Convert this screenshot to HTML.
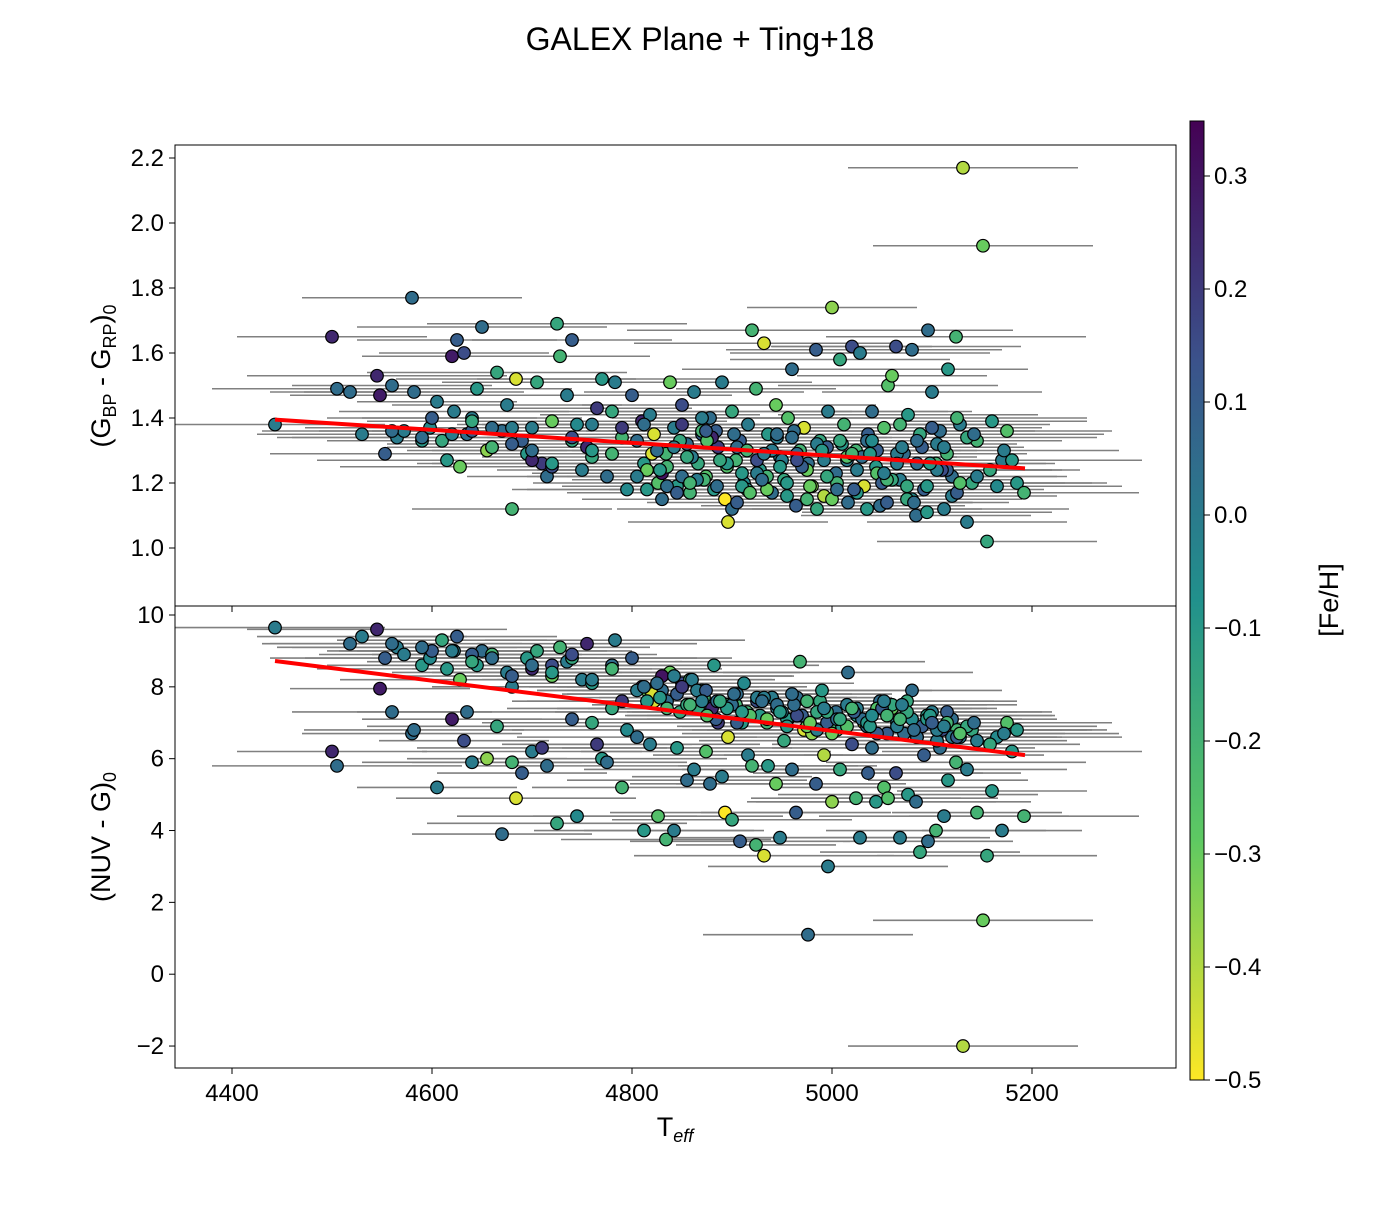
<!DOCTYPE html>
<html><head><meta charset="utf-8"><style>
body{margin:0;background:#fff;}
svg{font-family:"Liberation Sans","DejaVu Sans",sans-serif;}
</style></head><body>
<svg id="chart" width="1400" height="1200" viewBox="0 0 1400 1200">
<defs>
<clipPath id="clipTop"><rect x="175" y="145" width="1001" height="461"/></clipPath>
<clipPath id="clipBot"><rect x="175" y="606" width="1001" height="462"/></clipPath>
<linearGradient id="cbgrad" x1="0" y1="1" x2="0" y2="0">
<stop offset="0" stop-color="#fde725"/><stop offset="0.25" stop-color="#5ec962"/><stop offset="0.5" stop-color="#21918c"/><stop offset="0.75" stop-color="#3b528b"/><stop offset="1" stop-color="#440154"/>
</linearGradient>
</defs>
<text x="700" y="50" font-size="32" text-anchor="middle">GALEX Plane + Ting+18</text>
<g id="topMarks" clip-path="url(#clipTop)"></g>
<g id="botMarks" clip-path="url(#clipBot)"></g>
<rect x="175" y="145" width="1001" height="461" fill="none" stroke="#000" stroke-width="1"/>
<rect x="175" y="606" width="1001" height="462" fill="none" stroke="#000" stroke-width="1"/>
<g id="axes"></g>
<text transform="translate(110,376) rotate(-90)" font-size="27" text-anchor="middle">(G<tspan font-size="18" dy="6">BP</tspan><tspan dy="-6"> - G</tspan><tspan font-size="18" dy="6">RP</tspan><tspan dy="-6">)</tspan><tspan font-size="18" dy="6">0</tspan></text>
<text transform="translate(110,837) rotate(-90)" font-size="27" text-anchor="middle">(NUV - G)<tspan font-size="18" dy="6">0</tspan></text>
<text x="675" y="1136" font-size="27" text-anchor="middle">T<tspan font-size="18" dy="6" font-style="italic">eff</tspan></text>
<rect x="1190" y="121" width="14" height="959" fill="url(#cbgrad)" stroke="#000" stroke-width="1"/>
<text transform="translate(1338,600) rotate(-90)" font-size="27" text-anchor="middle">[Fe/H]</text>
</svg>
<script>
const teff=[4443,4500,4505,4518,4530,4545,4548,4553,4560,4565,
4572,4580,4582,4590,4598,4605,4610,4615,4620,4622,
4625,4628,4632,4635,4640,4645,4650,4655,4660,4665,
4670,4675,4680,4684,4690,4695,4700,4705,4710,4715,
4720,4725,4728,4735,4740,4745,4750,4755,4760,4765,
4770,4775,4780,4783,4790,4795,4800,4805,4810,4812,
4818,4822,4826,4830,4834,4838,4842,4845,4850,4855,
4858,4862,4866,4870,4874,4878,4882,4886,4890,4893,
4896,4900,4904,4908,4912,4916,4920,4924,4928,4932,
4936,4940,4944,4948,4952,4956,4960,4964,4968,4972,
4976,4980,4984,4988,4992,4996,5000,5004,5008,5012,
5016,5020,5024,5028,5032,5036,5040,5044,5048,5052,
5056,5060,5064,5068,5072,5076,5080,5084,5088,5092,
5096,5100,5104,5108,5112,5116,5120,5124,5128,5131,
5135,5140,5145,5151,5155,5160,5165,5170,5175,5180,
5185,5192,
4640,4700,4760,4790,4815,4835,4848,4860,4872,4884,
4895,4905,4915,4925,4935,4945,4955,4965,4975,4985,
4995,5005,5015,5025,5035,5045,5055,5065,5075,5085,
5095,5105,5115,5125,4820,4850,4880,4910,4940,4970,
5000,5030,5060,5090,5120,4830,4870,4900,4950,5010,
5050,5080,5110,4780,4740,4680,4600,4560,4660,4720,
4805,4815,4825,4835,4845,4855,4865,4875,4885,4895,
4905,4915,4925,4935,4945,4955,4965,4975,4985,4995,
5005,5015,5025,5035,5045,5055,5065,5075,5085,5095,
5105,5115,5125,5135,5145,4812,4828,4842,4858,4874,
4888,4902,4918,4932,4948,4962,4978,4992,5008,5022,
5038,5052,5068,5082,5098,5112,5128,5142,5158,5172,
4700,4720,4740,4760,4780,4660,4680,4620,4640,4590,
4870,4910,4960,5020,5070,5100,4990,4930,4850,5040];
const bprp=[1.38,1.65,1.49,1.48,1.35,1.53,1.47,1.29,1.50,1.34,
1.36,1.77,1.48,1.33,1.37,1.45,1.33,1.27,1.59,1.42,
1.64,1.25,1.60,1.35,1.40,1.49,1.68,1.30,1.31,1.54,
1.36,1.44,1.12,1.52,1.33,1.29,1.37,1.51,1.26,1.22,
1.39,1.69,1.59,1.47,1.64,1.38,1.24,1.31,1.28,1.43,
1.52,1.22,1.42,1.51,1.34,1.18,1.47,1.33,1.39,1.26,
1.41,1.35,1.20,1.15,1.29,1.51,1.37,1.19,1.44,1.32,
1.17,1.48,1.26,1.35,1.22,1.40,1.18,1.31,1.51,1.15,
1.08,1.42,1.27,1.33,1.20,1.38,1.67,1.49,1.24,1.63,
1.35,1.17,1.44,1.28,1.21,1.40,1.55,1.13,1.30,1.37,
1.26,1.19,1.61,1.33,1.16,1.42,1.74,1.23,1.58,1.38,
1.14,1.62,1.30,1.60,1.19,1.35,1.42,1.25,1.13,1.37,
1.50,1.53,1.62,1.21,1.29,1.41,1.61,1.10,1.35,1.18,
1.67,1.48,1.26,1.36,1.12,1.55,1.22,1.65,1.38,2.17,
1.08,1.20,1.33,1.93,1.02,1.39,1.19,1.27,1.36,1.27,
1.20,1.17,
1.36,1.27,1.30,1.37,1.24,1.19,1.33,1.28,1.21,1.36,
1.25,1.31,1.18,1.27,1.22,1.34,1.16,1.29,1.24,1.12,
1.31,1.20,1.27,1.17,1.33,1.23,1.14,1.29,1.19,1.26,
1.11,1.32,1.24,1.40,1.29,1.22,1.34,1.19,1.30,1.25,
1.15,1.28,1.21,1.31,1.16,1.23,1.36,1.12,1.27,1.32,
1.20,1.15,1.24,1.29,1.33,1.37,1.40,1.36,1.31,1.25,
1.22,1.18,1.30,1.25,1.17,1.28,1.21,1.33,1.19,1.26,
1.14,1.30,1.23,1.18,1.35,1.20,1.27,1.15,1.32,1.22,
1.18,1.28,1.24,1.12,1.30,1.21,1.26,1.15,1.33,1.19,
1.24,1.29,1.17,1.34,1.22,1.38,1.24,1.31,1.20,1.36,
1.27,1.35,1.17,1.29,1.25,1.36,1.19,1.27,1.33,1.18,
1.29,1.23,1.38,1.14,1.26,1.31,1.20,1.35,1.24,1.30,
1.30,1.26,1.34,1.38,1.29,1.37,1.32,1.35,1.39,1.34,
1.40,1.23,1.34,1.29,1.31,1.37,1.30,1.21,1.38,1.33];
const nuvg=[9.65,6.2,5.8,9.2,9.4,9.6,7.95,8.8,7.3,9.1,
8.9,6.7,6.8,8.6,8.8,5.2,9.3,8.5,7.1,9.0,
9.4,8.2,6.5,7.3,5.9,8.6,9.0,6.0,8.8,6.9,
3.9,8.4,5.9,4.9,5.6,8.8,6.2,9.0,6.3,5.8,
8.3,4.2,9.1,8.7,7.1,4.4,8.2,9.2,7.0,6.4,
6.0,5.9,7.4,9.3,5.2,6.8,8.8,6.6,8.0,4.0,
6.4,7.6,4.4,7.9,3.75,8.4,4.0,6.3,8.1,5.4,
8.2,5.7,7.4,7.9,6.2,5.3,8.6,7.0,5.5,4.5,
6.6,4.3,7.5,3.7,8.1,6.1,5.8,3.6,7.2,3.3,
5.8,7.7,5.3,3.8,6.5,7.1,5.7,4.5,8.7,6.8,
1.1,6.7,5.3,7.6,6.1,3.0,4.8,7.3,5.7,6.9,
8.4,6.4,4.9,3.8,7.0,5.6,6.3,4.8,7.6,5.2,
4.9,7.4,5.6,3.8,6.7,5.0,7.9,4.8,3.4,6.1,
3.7,7.3,4.0,6.3,4.4,5.4,7.1,5.9,6.6,-2.0,
5.7,6.8,4.5,1.5,3.3,5.1,6.6,4.0,7.0,6.2,
6.8,4.4,
8.9,8.5,8.1,7.6,7.9,7.6,7.3,8.2,7.7,7.1,
7.5,7.8,7.2,7.6,7.0,7.4,7.1,7.7,6.9,7.3,
7.0,6.8,7.5,7.2,6.9,7.4,6.7,7.0,7.6,6.6,
7.2,6.5,7.3,6.8,7.8,8.0,7.4,7.0,7.7,7.2,
6.7,7.1,7.5,6.9,6.6,8.3,7.9,7.5,7.3,6.9,
7.4,7.1,6.8,8.6,8.8,8.0,9.0,9.2,8.9,8.6,
7.9,7.6,8.1,7.4,7.8,7.5,7.9,7.2,7.6,7.4,
7.0,7.3,7.7,7.1,7.5,6.9,7.2,7.6,6.8,7.3,
7.1,6.9,7.4,7.0,6.7,7.2,6.9,7.3,6.6,7.1,
6.8,7.0,6.6,6.9,6.5,8.0,7.7,8.3,7.5,7.9,
7.6,7.8,7.2,7.7,7.3,7.5,7.0,7.4,7.1,7.3,
6.9,7.6,7.1,6.8,7.2,6.9,6.7,7.0,6.4,6.7,
8.6,8.4,8.9,8.2,8.5,8.8,8.3,9.0,8.7,9.1,
7.6,7.3,7.8,7.4,7.5,7.0,7.9,7.6,8.0,7.2];
const feh=[0.0,0.25,0.05,0.05,0.0,0.25,0.28,0.1,0.05,0.0,
0.0,0.05,0.05,-0.1,-0.05,0.0,-0.15,-0.1,0.28,0.0,
0.1,-0.3,0.15,0.05,0.0,-0.1,0.05,-0.35,0.15,-0.15,
0.05,0.0,-0.2,-0.45,0.1,-0.1,0.0,-0.15,0.2,0.05,
-0.3,-0.15,-0.2,0.0,0.1,-0.05,0.0,0.25,-0.15,0.2,
-0.1,0.05,-0.15,0.0,-0.2,-0.05,0.1,0.05,0.25,-0.1,
0.0,-0.45,-0.25,0.05,-0.2,-0.3,0.0,-0.1,0.15,0.05,
-0.2,0.0,-0.15,0.1,-0.25,0.05,-0.1,0.2,0.0,-0.5,
-0.45,-0.15,-0.2,0.1,-0.05,0.0,-0.2,-0.2,-0.1,-0.45,
-0.1,0.05,-0.3,0.0,-0.15,-0.25,0.05,0.1,-0.2,-0.45,
0.05,-0.35,0.1,-0.15,-0.4,0.0,-0.35,0.05,-0.15,-0.2,
0.05,0.15,-0.2,0.0,-0.45,0.1,0.05,-0.1,0.05,-0.25,
-0.25,-0.3,0.15,0.0,0.05,-0.1,0.05,0.05,-0.15,0.1,
0.05,0.0,-0.2,0.05,0.0,-0.1,0.05,-0.2,0.0,-0.4,
0.0,-0.15,-0.2,-0.3,-0.15,-0.1,-0.05,0.0,-0.25,-0.1,
-0.1,-0.2,
0.1,0.25,-0.1,0.2,-0.3,0.05,-0.15,0.0,-0.2,0.1,
-0.25,0.05,-0.1,0.15,-0.2,0.0,-0.1,0.05,-0.3,-0.15,
0.1,-0.2,0.0,-0.1,0.05,-0.25,0.1,0.0,-0.15,0.05,
-0.1,0.0,0.1,-0.2,-0.45,0.05,0.25,-0.1,0.0,0.1,
-0.3,0.05,-0.15,0.1,0.0,0.3,-0.2,0.05,0.0,-0.1,
0.1,-0.05,0.15,0.05,-0.15,0.0,0.1,0.05,-0.2,0.15,
0.0,-0.1,0.05,-0.2,0.1,-0.15,0.0,-0.25,0.05,-0.1,
0.1,-0.2,0.0,-0.3,0.05,-0.1,0.15,-0.2,0.0,-0.15,
0.05,-0.25,0.0,-0.1,0.1,-0.2,0.0,-0.15,0.05,-0.1,
0.0,-0.2,0.1,-0.15,0.0,0.05,-0.1,0.0,-0.2,0.1,
-0.15,0.05,-0.25,0.0,-0.1,0.05,-0.3,0.0,-0.15,0.1,
-0.1,0.0,-0.2,0.05,-0.1,0.0,-0.25,0.05,-0.15,0.0,
0.05,-0.1,0.15,0.0,-0.2,0.05,0.1,0.0,-0.15,0.05,
0.0,-0.1,0.05,-0.2,0.0,0.1,-0.1,0.05,0.2,-0.05];
const teffErr=[110,95,125,80,105,130,90,115,100,120,85,110];
const fitTeff=[4443,5193];
const fitBprp=[1.395,1.245];
const fitNuvg=[8.72,6.10];
const xTicks=[4400,4600,4800,5000,5200];
const topTicks=[1.0,1.2,1.4,1.6,1.8,2.0,2.2];
const botTicks=[-2,0,2,4,6,8,10];
const cbTicks=[0.3,0.2,0.1,0.0,-0.1,-0.2,-0.3,-0.4,-0.5];

const NS="http://www.w3.org/2000/svg";
const xS=t=>232+(t-4400);
const yTop=v=>158+(2.2-v)*325;
const yBot=v=>615+(10-v)*35.92;
const yCb=v=>176+(0.3-v)*1130;
const stops=[[0,[253,231,37]],[0.25,[94,201,98]],[0.5,[33,145,140]],[0.75,[59,82,139]],[1,[68,1,84]]];
function color(f){let t=(f+0.5)/0.849;t=Math.max(0,Math.min(1,t));
 for(let i=0;i<stops.length-1;i++){const a=stops[i],b=stops[i+1];
  if(t<=b[0]){const u=(t-a[0])/(b[0]-a[0]);const c=a[1].map((v,k)=>Math.round(v+(b[1][k]-v)*u));return `rgb(${c[0]},${c[1]},${c[2]})`;}}
 return 'rgb(68,1,84)';}
function mk(tag,attrs,parent){const e=document.createElementNS(NS,tag);for(const k in attrs)e.setAttribute(k,attrs[k]);parent.appendChild(e);return e;}
const topG=document.getElementById('topMarks'),botG=document.getElementById('botMarks'),axG=document.getElementById('axes');
function panel(g,vals,ys,name){
 for(let i=0;i<teff.length;i++){const er=teffErr[i%teffErr.length];
  const l=mk('line',{x1:xS(teff[i]-er),x2:xS(teff[i]+er),y1:ys(vals[i]),y2:ys(vals[i]),stroke:'#808080','stroke-width':1.6},g);
  
  }}
function pts(g,vals,ys,name){
 for(let i=0;i<teff.length;i++){
  const c=mk('circle',{cx:xS(teff[i]),cy:ys(vals[i]),r:6.3,fill:color(feh[i]),stroke:'#000','stroke-width':1.2},g);
  
  }}
panel(topG,bprp,yTop,'top');panel(botG,nuvg,yBot,'bottom');
pts(topG,bprp,yTop,'top');pts(botG,nuvg,yBot,'bottom');
const f1=mk('line',{x1:xS(fitTeff[0]),x2:xS(fitTeff[1]),y1:yTop(fitBprp[0]),y2:yTop(fitBprp[1]),stroke:'#ff0000','stroke-width':4},topG);


const f2=mk('line',{x1:xS(fitTeff[0]),x2:xS(fitTeff[1]),y1:yBot(fitNuvg[0]),y2:yBot(fitNuvg[1]),stroke:'#ff0000','stroke-width':4},botG);


const fmt=v=>(v<0?'\u2212':'')+Math.abs(v);
xTicks.forEach(t=>{const x=xS(t);
 mk('line',{x1:x,x2:x,y1:1068,y2:1074,stroke:'#000'},axG);
 mk('line',{x1:x,x2:x,y1:606,y2:612,stroke:'#000'},axG);
 const tx=mk('text',{x:x,y:1101,'font-size':24,'text-anchor':'middle'},axG);tx.textContent=t;
 
 });
topTicks.forEach(v=>{const y=yTop(v);
 mk('line',{x1:169,x2:175,y1:y,y2:y,stroke:'#000'},axG);
 const tx=mk('text',{x:164,y:y+8,'font-size':24,'text-anchor':'end'},axG);tx.textContent=v.toFixed(1);
 
 });
botTicks.forEach(v=>{const y=yBot(v);
 mk('line',{x1:169,x2:175,y1:y,y2:y,stroke:'#000'},axG);
 const tx=mk('text',{x:164,y:y+8,'font-size':24,'text-anchor':'end'},axG);tx.textContent=fmt(v);
 
 });
cbTicks.forEach(v=>{const y=yCb(v);
 mk('line',{x1:1204,x2:1210,y1:y,y2:y,stroke:'#000'},axG);
 const tx=mk('text',{x:1214,y:y+8,'font-size':24},axG);tx.textContent=(v<0?'\u2212':'')+Math.abs(v).toFixed(1);
 
 });
</script>
</body></html>
